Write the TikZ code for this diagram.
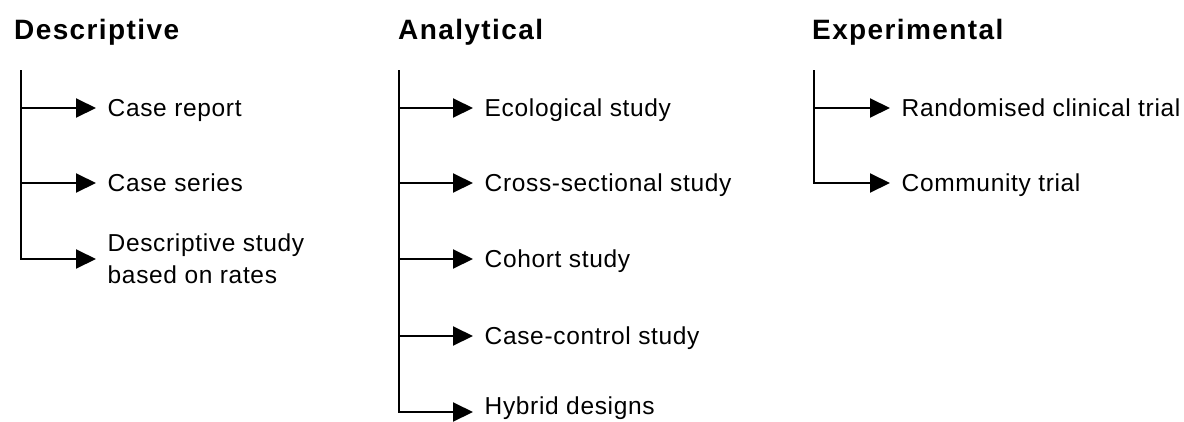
\documentclass[tikz,border=0pt]{standalone}
\usepackage{fontspec}
\setmainfont{Liberation Sans}
\newfontfamily\itemfont[LetterSpace=2.7]{Liberation Sans}
\newfontfamily\headfont[LetterSpace=5]{Liberation Sans}
\usetikzlibrary{arrows.meta}

\tikzset{
  trunk/.style={line width=2pt},
  branch/.style={line width=2pt, -{Triangle[length=20pt,width=19pt]}},
  colhead/.style={anchor=base west, inner sep=0pt,
    font=\headfont\bfseries\fontsize{28}{32}\selectfont},
  itembase/.style={anchor=west, inner ysep=0pt, inner xsep=11.5pt,
    font=\itemfont\fontsize{24.5}{32}\selectfont},
  item/.style={itembase, text height=17pt, text depth=1pt},
  item2/.style={itembase, align=left},
}

\begin{document}
\begin{tikzpicture}[x=1pt, y=-1pt]
  \useasboundingbox (0,0) rectangle (1184,421);

  % ---- Descriptive ----
  \node[colhead] (hd) at (14,39.5) {Descriptive};
  \coordinate (dtop) at (21,70);
  \coordinate (dj1) at (21,108);
  \coordinate (dj2) at (21,183);
  \node[item]  (d1) at (96,108) {Case report};
  \node[item]  (d2) at (96,183) {Case series};
  \node[item2] (d3) at (96,259) {Descriptive study\\based on rates};
  \draw[branch] (dtop) |- (d3.west);
  \draw[branch] (dj1) -- (d1.west);
  \draw[branch] (dj2) -- (d2.west);

  % ---- Analytical ----
  \node[colhead] (ha) at (398,39.5) {Analytical};
  \coordinate (atop) at (399,70);
  \coordinate (aj1) at (399,108);
  \coordinate (aj2) at (399,183);
  \coordinate (aj3) at (399,259);
  \coordinate (aj4) at (399,336);
  \node[item] (a1) at (473,108) {Ecological study};
  \node[item] (a2) at (473,183) {Cross-sectional study};
  \node[item] (a3) at (473,259) {Cohort study};
  \node[item] (a4) at (473,336) {Case-control study};
  % last entry sits slightly above its arrow, against the lower edge
  \node[item] (a5) at (473,406) {Hybrid designs};
  \draw[branch] (atop) |- ([yshift=-6pt]a5.west);
  \draw[branch] (aj1) -- (a1.west);
  \draw[branch] (aj2) -- (a2.west);
  \draw[branch] (aj3) -- (a3.west);
  \draw[branch] (aj4) -- (a4.west);

  % ---- Experimental ----
  \node[colhead] (he) at (812,39.5) {Experimental};
  \coordinate (etop) at (814,70);
  \coordinate (ej1) at (814,108);
  \node[item] (e1) at (890,108) {Randomised clinical trial};
  \node[item] (e2) at (890,183) {Community trial};
  \draw[branch] (etop) |- (e2.west);
  \draw[branch] (ej1) -- (e1.west);
\end{tikzpicture}
\end{document}
